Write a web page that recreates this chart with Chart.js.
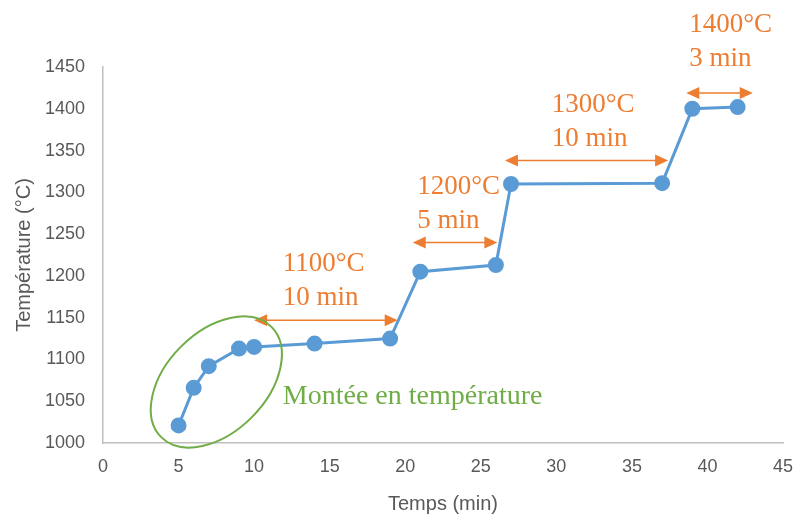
<!DOCTYPE html>
<html><head><meta charset="utf-8">
<script src="https://cdn.jsdelivr.net/npm/chart.js@4/dist/chart.umd.min.js"></script>
<style>html,body{margin:0;padding:0;background:#fff}#w{width:800px;height:520px}</style>
</head><body><div id="w"><canvas id="c" width="800" height="520"></canvas></div>
<script>
const temps = [5, 6, 7, 9, 10, 14, 19, 21, 26, 27, 37, 39, 42];
const temperatures = [1021, 1066, 1092, 1113, 1115, 1119, 1125, 1205, 1213, 1310, 1311, 1400, 1402];
// paliers: start, end, arrow level, label lines
const palierStart = [10, 20.5, 26.6, 38.6];
const palierEnd = [19.5, 26.1, 37.4, 43];
const palierLevel = [1147, 1240, 1338, 1419];
const palierTemp = ['1100°C', '1200°C', '1300°C', '1400°C'];
const palierDuree = ['10 min', '5 min', '10 min', '3 min'];
const palierLabelX = [11.9, 20.8, 29.7, 38.8];
const palierLabelY = [1214, 1307, 1405, 1500];
const montee = {label: 'Montée en température', cx: 7.5, cy: 1073, textX: 11.9, textY: 1055};

const annot = {
  id: 'annot',
  afterDatasetsDraw(chart) {
    const ctx = chart.ctx, xs = chart.scales.x, ys = chart.scales.y;
    const orange = '#ED7D31';
    ctx.save();
    for (let i = 0; i < palierStart.length; i++) {
      const x1 = xs.getPixelForValue(palierStart[i]);
      const x2 = xs.getPixelForValue(palierEnd[i]);
      const y = ys.getPixelForValue(palierLevel[i]);
      ctx.strokeStyle = orange; ctx.fillStyle = orange; ctx.lineWidth = 1.5;
      ctx.beginPath(); ctx.moveTo(x1 + 10, y); ctx.lineTo(x2 - 10, y); ctx.stroke();
      ctx.beginPath(); ctx.moveTo(x1, y); ctx.lineTo(x1 + 13, y - 6); ctx.lineTo(x1 + 13, y + 6); ctx.closePath(); ctx.fill();
      ctx.beginPath(); ctx.moveTo(x2, y); ctx.lineTo(x2 - 13, y - 6); ctx.lineTo(x2 - 13, y + 6); ctx.closePath(); ctx.fill();
      const tx = xs.getPixelForValue(palierLabelX[i]);
      const ty = ys.getPixelForValue(palierLabelY[i]);
      ctx.font = '27px "Liberation Serif", "Times New Roman", serif';
      ctx.textAlign = 'left'; ctx.textBaseline = 'middle';
      ctx.fillText(palierTemp[i], tx, ty);
      ctx.fillText(palierDuree[i], tx, ty + 34);
    }
    // ellipse
    const cx = xs.getPixelForValue(montee.cx), cy = ys.getPixelForValue(montee.cy);
    ctx.strokeStyle = '#70AD47'; ctx.lineWidth = 2;
    ctx.beginPath(); ctx.ellipse(cx, cy, 78, 50, -Math.PI / 4, 0, Math.PI * 2); ctx.stroke();
    ctx.fillStyle = '#70AD47';
    ctx.font = '28px "Liberation Serif", "Times New Roman", serif';
    ctx.textAlign = 'left'; ctx.textBaseline = 'middle';
    ctx.fillText(montee.label, xs.getPixelForValue(montee.textX), ys.getPixelForValue(montee.textY));
    ctx.restore();
  }
};

const sans = '"Liberation Sans", Arial, sans-serif';
new Chart(document.getElementById('c'), {
  type: 'scatter',
  data: {
    datasets: [{
      data: temps.map((t, i) => ({x: t, y: temperatures[i]})),
      showLine: true,
      borderColor: '#5B9BD5', backgroundColor: '#5B9BD5',
      borderWidth: 3, pointRadius: 6.5, pointHoverRadius: 6.5, tension: 0
    }]
  },
  options: {
    responsive: false, animation: false,
    layout: {padding: {left: 12, top: 67, right: 17, bottom: 0}},
    plugins: {legend: {display: false}, tooltip: {enabled: false}},
    scales: {
      x: {
        type: 'linear', min: 0, max: 45,
        ticks: {stepSize: 5, color: '#595959', font: {size: 18, family: sans}, padding: 13},
        grid: {display: false, drawTicks: false},
        border: {color: '#BFBFBF', width: 1.5},
        title: {display: true, text: 'Temps (min)', color: '#595959', font: {size: 20, family: sans}, padding: {top: 4}},
        afterFit(s) { s.height = 77; s.paddingRight = 0; s.paddingLeft = 0; }
      },
      y: {
        min: 1000, max: 1450,
        ticks: {stepSize: 50, color: '#595959', font: {size: 18, family: sans}, padding: 18,
                callback: v => String(v)},
        grid: {display: false, drawTicks: false},
        border: {color: '#BFBFBF', width: 1.5},
        title: {display: true, text: 'Température (°C)', color: '#595959', font: {size: 20, family: sans}, padding: {top: 0, bottom: 0}},
        afterFit(s) { s.width = 91; s.paddingTop = 0; s.paddingBottom = 0; }
      }
    }
  },
  plugins: [annot]
});
</script></body></html>
